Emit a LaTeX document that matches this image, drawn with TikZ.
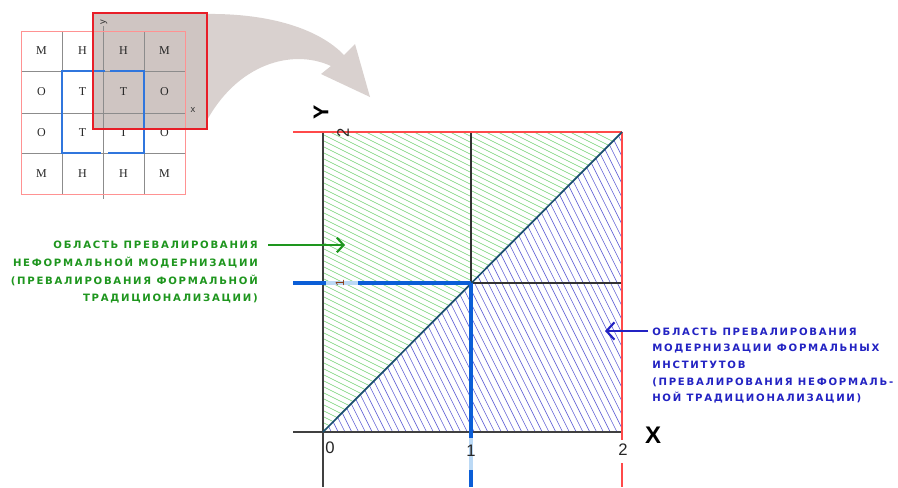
\documentclass[tikz,border=0pt]{standalone}
\usepackage{fontspec}
\setmainfont{Liberation Sans}
\newfontfamily\labfont[LetterSpace=17]{DejaVu Sans}
\newfontfamily\cellfont{Liberation Serif}
\usetikzlibrary{arrows.meta}
\definecolor{hgreen}{HTML}{72D072}
\definecolor{hblue}{HTML}{6262D6}
\definecolor{tgreen}{HTML}{1E961E}
\definecolor{tblue}{HTML}{2323C3}
\definecolor{axred}{HTML}{FF4A4A}
\definecolor{thickblue}{HTML}{0B5ED7}
\definecolor{lightblue}{HTML}{BBD9F5}
\definecolor{arrowgray}{HTML}{D9D1CF}
\definecolor{boxgray}{HTML}{CFC5C2}
\definecolor{diagc}{HTML}{1B4F6E}
\definecolor{gridgray}{HTML}{8C8C8C}
\tikzset{
  greentxt/.style={inner sep=0pt, text=tgreen, font=\labfont\bfseries\fontsize{7.6}{8}\selectfont},
  bluetxt/.style={inner sep=0pt, text=tblue, font=\labfont\bfseries\fontsize{7.6}{8}\selectfont},
  numlab/.style={inner sep=0pt, text=black!85, font=\fontsize{12.5}{13}\selectfont},
  cell/.style={inner sep=0pt, text=black!85, font=\cellfont\fontsize{9}{10}\selectfont},
  gridln/.style={draw=black!80, line width=0.9pt},
  axisln/.style={draw=black!75, line width=1.2pt},
  redln/.style={draw=axred, line width=1pt},
  tblue/.style={draw=thickblue, line width=3.4pt},
  tlight/.style={draw=lightblue, line width=3.4pt},
  sgrid/.style={draw=gridgray, line width=0.6pt},
}
\begin{document}
\begin{tikzpicture}[x=0.75pt, y=-0.75pt]
\useasboundingbox (0,0) rectangle (898,487);
\fill[white] (0,0) rectangle (898,487);

% ---------- main plot coordinates ----------
\coordinate (O) at (323,432);
\coordinate (X1) at (471,432);
\coordinate (X2) at (622,432);
\coordinate (Y1) at (323,283);
\coordinate (Y2) at (323,132);
\coordinate (C) at (471,283);
\coordinate (TR) at (622,132);
\coordinate (T1) at (471,132);
\coordinate (R1) at (622,283);

% hatching
\begin{scope}
  \clip (O) -- (Y2) -- (TR) -- cycle;
  \foreach \c in {-165,-159,...,295}
    \draw[hgreen, line width=0.45pt] (300,{\c+0.5*300}) -- (650,{\c+0.5*650});
\end{scope}
\begin{scope}
  \clip (O) -- (TR) -- (X2) -- cycle;
  \foreach \c in {95,101.8,...,565}
    \draw[hblue, line width=0.45pt] ({\c+60},120) -- ({\c+220},440);
\end{scope}

% grid
\draw[gridln] (T1) -- (X1);
\draw[gridln] (C) -- (R1);
% axes
\coordinate (xa0) at (293,432);
\coordinate (ya0) at (323,487);
\draw[axisln] (xa0) -- (X2);
\draw[axisln] (Y2) -- (ya0);
% red border lines
\coordinate (ra0) at (293,132);
\coordinate (rb0) at (622,440);
\coordinate (rb1) at (622,463);
\coordinate (rb2) at (622,487);
\draw[redln] (ra0) -- (TR);
\draw[redln] (TR) -- (rb0);
\draw[redln] (rb1) -- (rb2);
% diagonal
\draw[diagc, line width=1.3pt] (O) -- (TR);

% thick blue lines
\coordinate (h0) at (293,283);
\coordinate (h1) at (326,283);
\coordinate (h2) at (358,283);
\draw[tblue] (h0) -- (h1);
\draw[tlight] (h1) -- (h2);
\draw[tblue] (h2) -- (C);
\coordinate (v1) at (471,438);
\coordinate (v2) at (471,470);
\coordinate (v3) at (471,487);
\draw[tblue] (C) -- (v1);
\draw[tlight] (v1) -- (v2);
\draw[tblue] (v2) -- (v3);

% axis labels
\node[numlab] (n0) at (330,448) {0};
\node[numlab] (n1) at (471,451) {1};
\node[numlab] (n2) at (623,450) {2};
\node[numlab, rotate=90] (n2y) at (343,133) {2};
\node[inner sep=0pt, rotate=90, text={rgb,255:red,140;green,60;blue,20}, font=\fontsize{9}{10}\selectfont] (n1y) at (340,283) {1};
\node[inner sep=0pt, font=\bfseries\fontsize{18}{20}\selectfont] (xl) at (653,435) {X};
\node[inner sep=0pt, rotate=90, font=\bfseries\fontsize{16}{18}\selectfont] (yl) at (321,112) {Y};

% ---------- green label ----------
\node[greentxt, anchor=base east] (g1) at (258,248.5) {ОБЛАСТЬ ПРЕВАЛИРОВАНИЯ};
\node[greentxt, anchor=base east] (g2) at (258,266.5) {НЕФОРМАЛЬНОЙ МОДЕРНИЗАЦИИ};
\node[greentxt, anchor=base east] (g3) at (258,284.5) {(ПРЕВАЛИРОВАНИЯ ФОРМАЛЬНОЙ};
\node[greentxt, anchor=base east] (g4) at (258,301) {ТРАДИЦИОНАЛИЗАЦИИ)};
\coordinate (ga) at (268,245);
\coordinate (gb) at (345,245);
\draw[tgreen, line width=1.6pt, -{Straight Barb[length=5pt,width=11pt]}] (ga) -- (gb);

% ---------- blue label ----------
\node[bluetxt, anchor=base west] (b1) at (652,335) {ОБЛАСТЬ ПРЕВАЛИРОВАНИЯ};
\node[bluetxt, anchor=base west] (b2) at (652,351.5) {МОДЕРНИЗАЦИИ ФОРМАЛЬНЫХ};
\node[bluetxt, anchor=base west] (b3) at (652,368.5) {ИНСТИТУТОВ};
\node[bluetxt, anchor=base west] (b4) at (652,385) {(ПРЕВАЛИРОВАНИЯ НЕФОРМАЛЬ-};
\node[bluetxt, anchor=base west] (b5) at (652,401.5) {НОЙ ТРАДИЦИОНАЛИЗАЦИИ)};
\coordinate (ba) at (648,331);
\coordinate (bb) at (605,331);
\draw[draw=tblue, line width=1.6pt, -{Straight Barb[length=6pt,width=13pt]}] (ba) -- (bb);

% ---------- curved grey arrow ----------
\fill[arrowgray] (205,14) .. controls (272,13) and (320,30) .. (344,55)
  -- (355,44) -- (370,97) -- (321,74) -- (331,66)
  .. controls (292,48) and (236,64) .. (205,124) -- cycle;

% overlay box fill (behind grid lines and letters)
\fill[boxgray] (93,13) rectangle (207,129);

% ---------- small grid ----------
\foreach \x in {62,103,144} \draw[sgrid] (\x,31) -- (\x,194);
\foreach \y in {71,113,153} \draw[sgrid] (21,\y) -- (185,\y);
\draw[sgrid] (103,26) -- (103,199);
\draw[draw=axred!60, line width=0.6pt] (21,31) rectangle (185,194);
\node[cell] (c11) at (41.5,51) {М};
\node[cell] (c12) at (82.5,51) {Н};
\node[cell] (c13) at (123.5,51) {Н};
\node[cell] (c14) at (164.5,51) {М};
\node[cell] (c21) at (41.5,92) {О};
\node[cell] (c22) at (82.5,92) {Т};
\node[cell] (c23) at (123.5,92) {Т};
\node[cell] (c24) at (164.5,92) {О};
\node[cell] (c31) at (41.5,133) {О};
\node[cell] (c32) at (82.5,133) {Т};
\node[cell] (c33) at (123.5,133) {Т};
\node[cell] (c34) at (164.5,133) {О};
\node[cell] (c41) at (41.5,173.5) {М};
\node[cell] (c42) at (82.5,173.5) {Н};
\node[cell] (c43) at (123.5,173.5) {Н};
\node[cell] (c44) at (164.5,173.5) {М};
\draw[draw=thickblue!85, line width=1.6pt] (105,71) -- (62,71) -- (62,153) -- (101,153);
\draw[draw=thickblue!85, line width=1.6pt] (108,153) -- (144,153) -- (144,71) -- (110,71);
\node[inner sep=0pt, font=\fontsize{7}{8}\selectfont, text=black!80] (sx) at (193,110) {x};
\node[inner sep=0pt, rotate=90, font=\fontsize{7}{8}\selectfont, text=black!80] (sy) at (104,22) {y};

% overlay box border
\draw[draw={rgb,255:red,232;green,30;blue,40}, line width=2.2pt] (93,13) rectangle (207,129);
\end{tikzpicture}
\end{document}
